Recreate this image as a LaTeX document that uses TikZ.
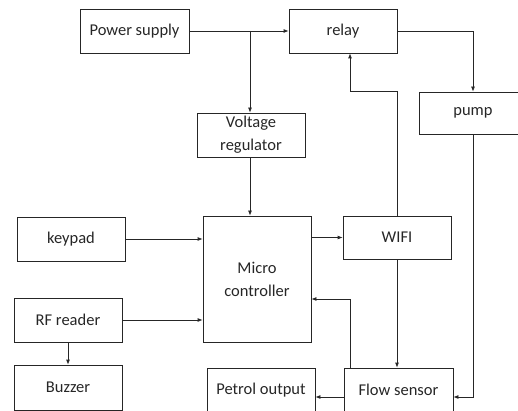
\documentclass[tikz,border=0pt]{standalone}
\usepackage{fontspec}
\setmainfont{Carlito}
\usetikzlibrary{arrows.meta}
\begin{document}
\begin{tikzpicture}[x=1pt,y=-1pt,
  box/.style={draw=black!85,line width=0.8pt,inner sep=0pt,minimum width=108pt,minimum height=44pt,align=center,font=\fontsize{16.5}{22}\selectfont,text=black!85},
  arr/.style={draw=black!85,line width=0.8pt,-{Latex[length=5pt,width=4pt]}},
  ln/.style={draw=black!85,line width=0.8pt}]
\useasboundingbox (0,0) rectangle (518,411);
\clip (0,0) rectangle (518,411);
\node[box,minimum width=109pt] (ps) at (134.5,31) {Power supply};
\node[box] (relay) at (343,31) {relay};
\node[box,minimum height=42pt] (pump) at (473,113) {pump};
\node[box] (vr) at (251,135) {Voltage\\[1pt]regulator};
\node[box] (keypad) at (71,239) {keypad};
\node[box,minimum height=126pt] (mc) at (257,279) {Micro\\[1pt]controller};
\node[box,minimum height=43pt] (wifi) at (397,237.5) {WIFI};
\node[box] (rf) at (68,320) {RF reader};
\node[box,minimum height=45pt] (buzzer) at (68,387.5) {Buzzer};
\node[box] (petrol) at (261,390) {Petrol output};
\node[box,minimum width=109pt] (flow) at (398.5,390) {Flow sensor};
\coordinate (j1) at (250,31);
\coordinate (c1) at (350,91);
\coordinate (c2) at (350,299);
\coordinate (c3) at (473,397);
\draw[arr] (ps.east) -- (relay.west);
\draw[arr] (j1) -- (j1 |- vr.north);
\draw[arr] (relay.east) -| (pump.north);
\draw[arr] (wifi.north) |- (c1) -- (c1 |- relay.south);
\draw[arr] (j1 |- vr.south) -- (j1 |- mc.north);
\draw[arr] (keypad.east) -- (mc.west |- keypad.east);
\draw[arr] (wifi.west -| mc.east) -- (wifi.west);
\draw[arr] (rf.east) -- (mc.west |- rf.east);
\draw[arr] (rf.south) -- (buzzer.north);
\draw[arr] (wifi.south) -- (wifi.south |- flow.north);
\draw[arr] (c2 |- flow.north) -- (c2) -- (c2 -| mc.east);
\draw[arr] (pump.south) -- (c3) -- (c3 -| flow.east);
\draw[arr] (c3 -| flow.west) -- (c3 -| petrol.east);
\end{tikzpicture}
\end{document}
